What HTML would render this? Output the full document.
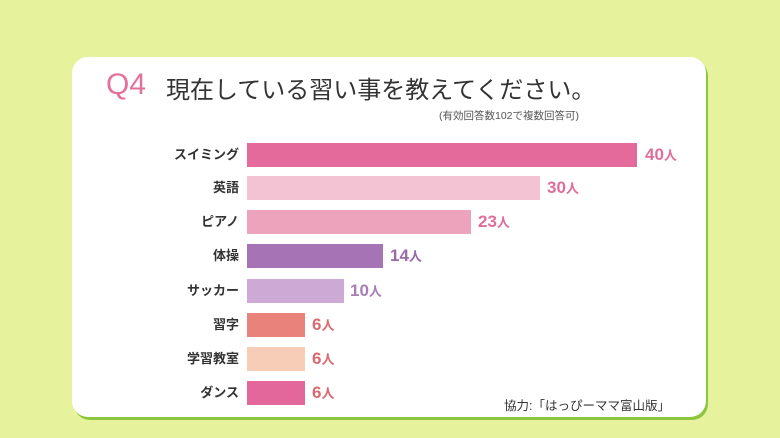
<!DOCTYPE html>
<html><head><meta charset="utf-8"><style>
html,body{margin:0;padding:0;width:780px;height:438px;overflow:hidden;background:#e7f29c;font-family:"Liberation Sans","Noto Sans CJK JP",sans-serif;}
.card{position:absolute;left:72px;top:57px;width:634px;height:360px;background:#fff;border-radius:16px;box-shadow:2px 3px 0 #8cc63f;}
.t{position:absolute;white-space:nowrap;}
.bar{position:absolute;left:247px;height:24px;}
.lab{position:absolute;right:541px;font-size:13px;font-weight:bold;color:#333;white-space:nowrap;line-height:24px;}
.val{position:absolute;font-size:17px;font-weight:bold;line-height:24px;white-space:nowrap;}
.val small{font-size:13px;}
</style></head><body>
<div class="card"></div>
<div class="t" style="left:106px;top:68px;font-size:30px;color:#e4719c;">Q4</div>
<div class="t" style="left:166px;top:70px;font-size:24px;color:#333;">現在している習い事を教えてください。</div>
<div class="t" style="left:439px;top:108px;font-size:10.5px;color:#555;">(有効回答数102で複数回答可)</div>

<div class="lab" style="top:143px">スイミング</div><div class="bar" style="top:143px;width:390px;background:#e46a9c"></div><div class="val" style="top:143px;left:645px;color:#e06e9a">40<small>人</small></div>
<div class="lab" style="top:176px">英語</div><div class="bar" style="top:176px;width:293px;background:#f3c3d3"></div><div class="val" style="top:176px;left:547px;color:#e06e9a">30<small>人</small></div>
<div class="lab" style="top:210px">ピアノ</div><div class="bar" style="top:210px;width:224px;background:#eea3bc"></div><div class="val" style="top:210px;left:478px;color:#e06e9a">23<small>人</small></div>
<div class="lab" style="top:244px">体操</div><div class="bar" style="top:244px;width:136px;background:#a673b5"></div><div class="val" style="top:244px;left:390px;color:#9a6aa8">14<small>人</small></div>
<div class="lab" style="top:279px">サッカー</div><div class="bar" style="top:279px;width:97px;background:#cda9d5"></div><div class="val" style="top:279px;left:350px;color:#a77fb4">10<small>人</small></div>
<div class="lab" style="top:313px">習字</div><div class="bar" style="top:313px;width:58px;background:#e9827a"></div><div class="val" style="top:313px;left:312px;color:#d96a70">6<small>人</small></div>
<div class="lab" style="top:347px">学習教室</div><div class="bar" style="top:347px;width:58px;background:#f8cdb8"></div><div class="val" style="top:347px;left:312px;color:#d96a70">6<small>人</small></div>
<div class="lab" style="top:381px">ダンス</div><div class="bar" style="top:381px;width:58px;background:#e4679c"></div><div class="val" style="top:381px;left:312px;color:#d96a70">6<small>人</small></div>

<div class="t" style="left:504px;top:395px;font-size:12.5px;color:#333;">協力:「はっぴーママ富山版」</div>
</body></html>
